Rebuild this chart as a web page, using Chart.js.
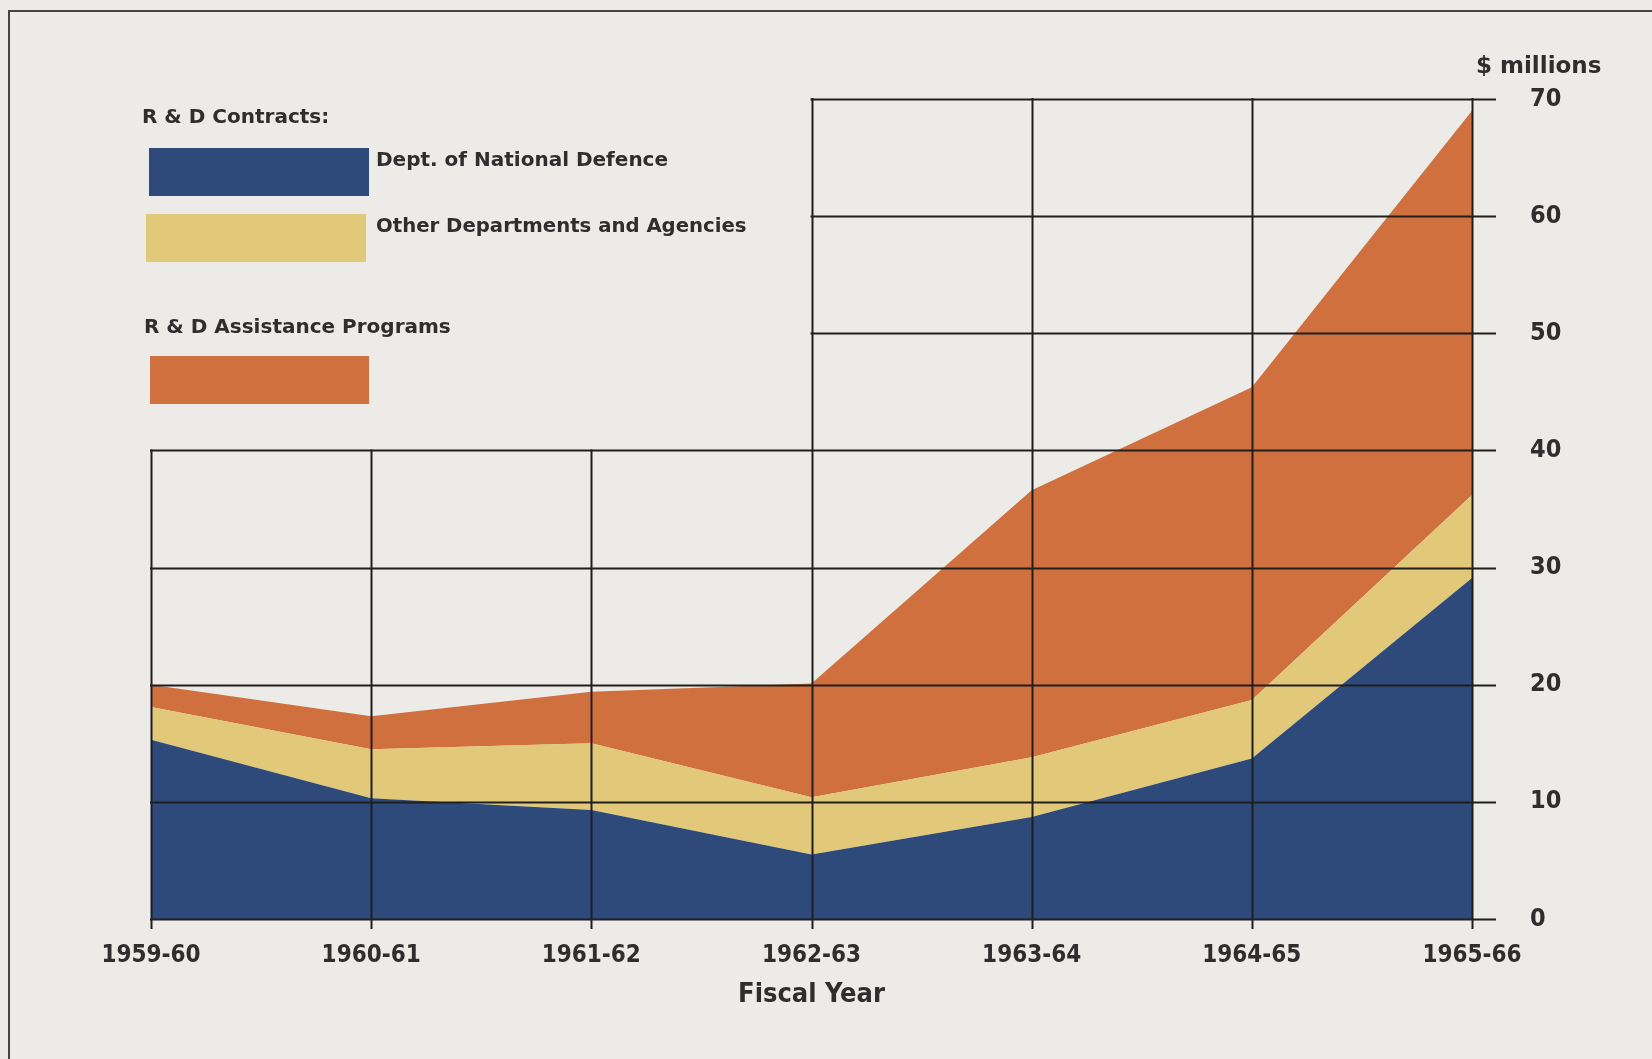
<!DOCTYPE html>
<html>
<head>
<meta charset="utf-8">
<script src="https://cdn.jsdelivr.net/npm/chart.js@4.4.1/dist/chart.umd.min.js"></script>
<style>
  html, body { margin: 0; padding: 0; background: #ecebe7; }
  #wrap { position: relative; width: 1652px; height: 1059px; overflow: hidden; }
  #wrap canvas { position: absolute; left: 0; top: 0; }
  .frame-top { position: absolute; left: 8px; right: 0; top: 10px; height: 2px; background: #444; }
  .frame-left { position: absolute; left: 8px; top: 10px; bottom: 0; width: 2px; background: #444; }
  .txt { position: absolute; font-family: "DejaVu Sans", sans-serif; font-weight: bold; color: #2e2e2e; font-size: 20px; white-space: nowrap; line-height: 1; }
  .box { position: absolute; }
</style>
</head>
<body>
<div id="wrap">
  <div class="frame-top"></div>
  <div class="frame-left"></div>
  <canvas id="chart" width="1652" height="1059"></canvas>

  <div class="txt" style="left:142px; top:106px;">R &amp; D Contracts:</div>
  <div class="box" style="left:149px; top:148px; width:220px; height:48px; background:#2d4a7b;"></div>
  <div class="txt" style="left:376px; top:149px;">Dept. of National Defence</div>
  <div class="box" style="left:146px; top:214px; width:220px; height:48px; background:#e2c97a;"></div>
  <div class="txt" style="left:376px; top:216px; font-size:19.7px;">Other Departments and Agencies</div>
  <div class="txt" style="left:144px; top:316px;">R &amp; D Assistance Programs</div>
  <div class="box" style="left:150px; top:356px; width:219px; height:48px; background:#d1703f;"></div>

  <div class="txt" style="left:1476px; top:54px; font-size:23px;">$ millions</div>
</div>

<script>
// Fiscal years on the x axis
const years = ['1959-60', '1960-61', '1961-62', '1962-63', '1963-64', '1964-65', '1965-66'];

// $ millions, stacked from the bottom up
const nationalDefence = [15.3, 10.3, 9.3, 5.5, 8.7, 13.7, 29.1];
const otherDepartments = [2.8, 4.2, 5.7, 4.9, 5.1, 5.0, 7.1];
const assistancePrograms = [1.9, 2.8, 4.4, 9.7, 22.8, 26.7, 32.8];

const yTickValues = [0, 10, 20, 30, 40, 50, 60, 70];

const lowGridTop = 40;     // first three years only get grid up to this value
const tallGridFrom = 3;    // index of the first year whose grid goes to the top

const condensed = '"Liberation Sans Narrow", "DejaVu Sans Condensed", sans-serif';
const tickFont = { family: condensed, size: 24, weight: 'bold' };
const titleFont = { family: condensed, size: 27, weight: 'bold' };

// grid drawn on top of the areas, shorter on the left like the original
const partialGrid = {
  id: 'partialGrid',
  afterDatasetsDraw(chart) {
    const { ctx, scales: { x, y } } = chart;
    ctx.save();
    ctx.strokeStyle = '#1f1f1f';
    ctx.lineWidth = 2;
    yTickValues.forEach((v) => {
      const py = Math.round(y.getPixelForValue(v)) + 0.5;
      const left = v <= lowGridTop ? x.getPixelForValue(0) : x.getPixelForValue(tallGridFrom);
      ctx.beginPath();
      ctx.moveTo(left - 1, py);
      ctx.lineTo(x.right + 24, py);
      ctx.stroke();
    });
    years.forEach((yr, i) => {
      const px = Math.round(x.getPixelForValue(i)) + 0.5;
      const top = i < tallGridFrom ? y.getPixelForValue(lowGridTop) : y.getPixelForValue(70);
      ctx.beginPath();
      ctx.moveTo(px, top - 1);
      ctx.lineTo(px, y.getPixelForValue(0) + 10);
      ctx.stroke();
    });
    ctx.restore();
  }
};

new Chart(document.getElementById('chart'), {
  type: 'line',
  data: {
    labels: years,
    datasets: [
      { label: 'Dept. of National Defence', data: nationalDefence, fill: 'origin', backgroundColor: '#2d4a7b' },
      { label: 'Other Departments and Agencies', data: otherDepartments, fill: '-1', backgroundColor: '#e2c97a' },
      { label: 'R & D Assistance Programs', data: assistancePrograms, fill: '-1', backgroundColor: '#d1703f' }
    ]
  },
  options: {
    responsive: false,
    animation: false,
    devicePixelRatio: 1,
    elements: {
      line: { borderWidth: 0, tension: 0 },
      point: { radius: 0, hoverRadius: 0 }
    },
    layout: { padding: { left: 151, top: 99, right: 50, bottom: 48 } },
    plugins: { legend: { display: false }, tooltip: { enabled: false } },
    scales: {
      x: {
        offset: false,
        grid: { display: false, drawTicks: false },
        border: { display: false },
        ticks: { color: '#2e2e2e', font: tickFont, padding: 22, maxRotation: 0, autoSkip: false },
        title: { display: true, text: 'Fiscal Year', color: '#2e2e2e', font: titleFont, padding: { top: 0, bottom: 0 } },
        afterFit(scale) { scale.height = 92; }
      },
      y: {
        position: 'right',
        stacked: true,
        min: 0,
        max: 70,
        grid: { display: false, drawTicks: false },
        border: { display: false },
        ticks: { stepSize: 10, color: '#2e2e2e', font: { family: condensed, size: 25, weight: 'bold' }, padding: 58 },
        afterFit(scale) { scale.width = 130; }
      }
    }
  },
  plugins: [partialGrid]
});
</script>
</body>
</html>
